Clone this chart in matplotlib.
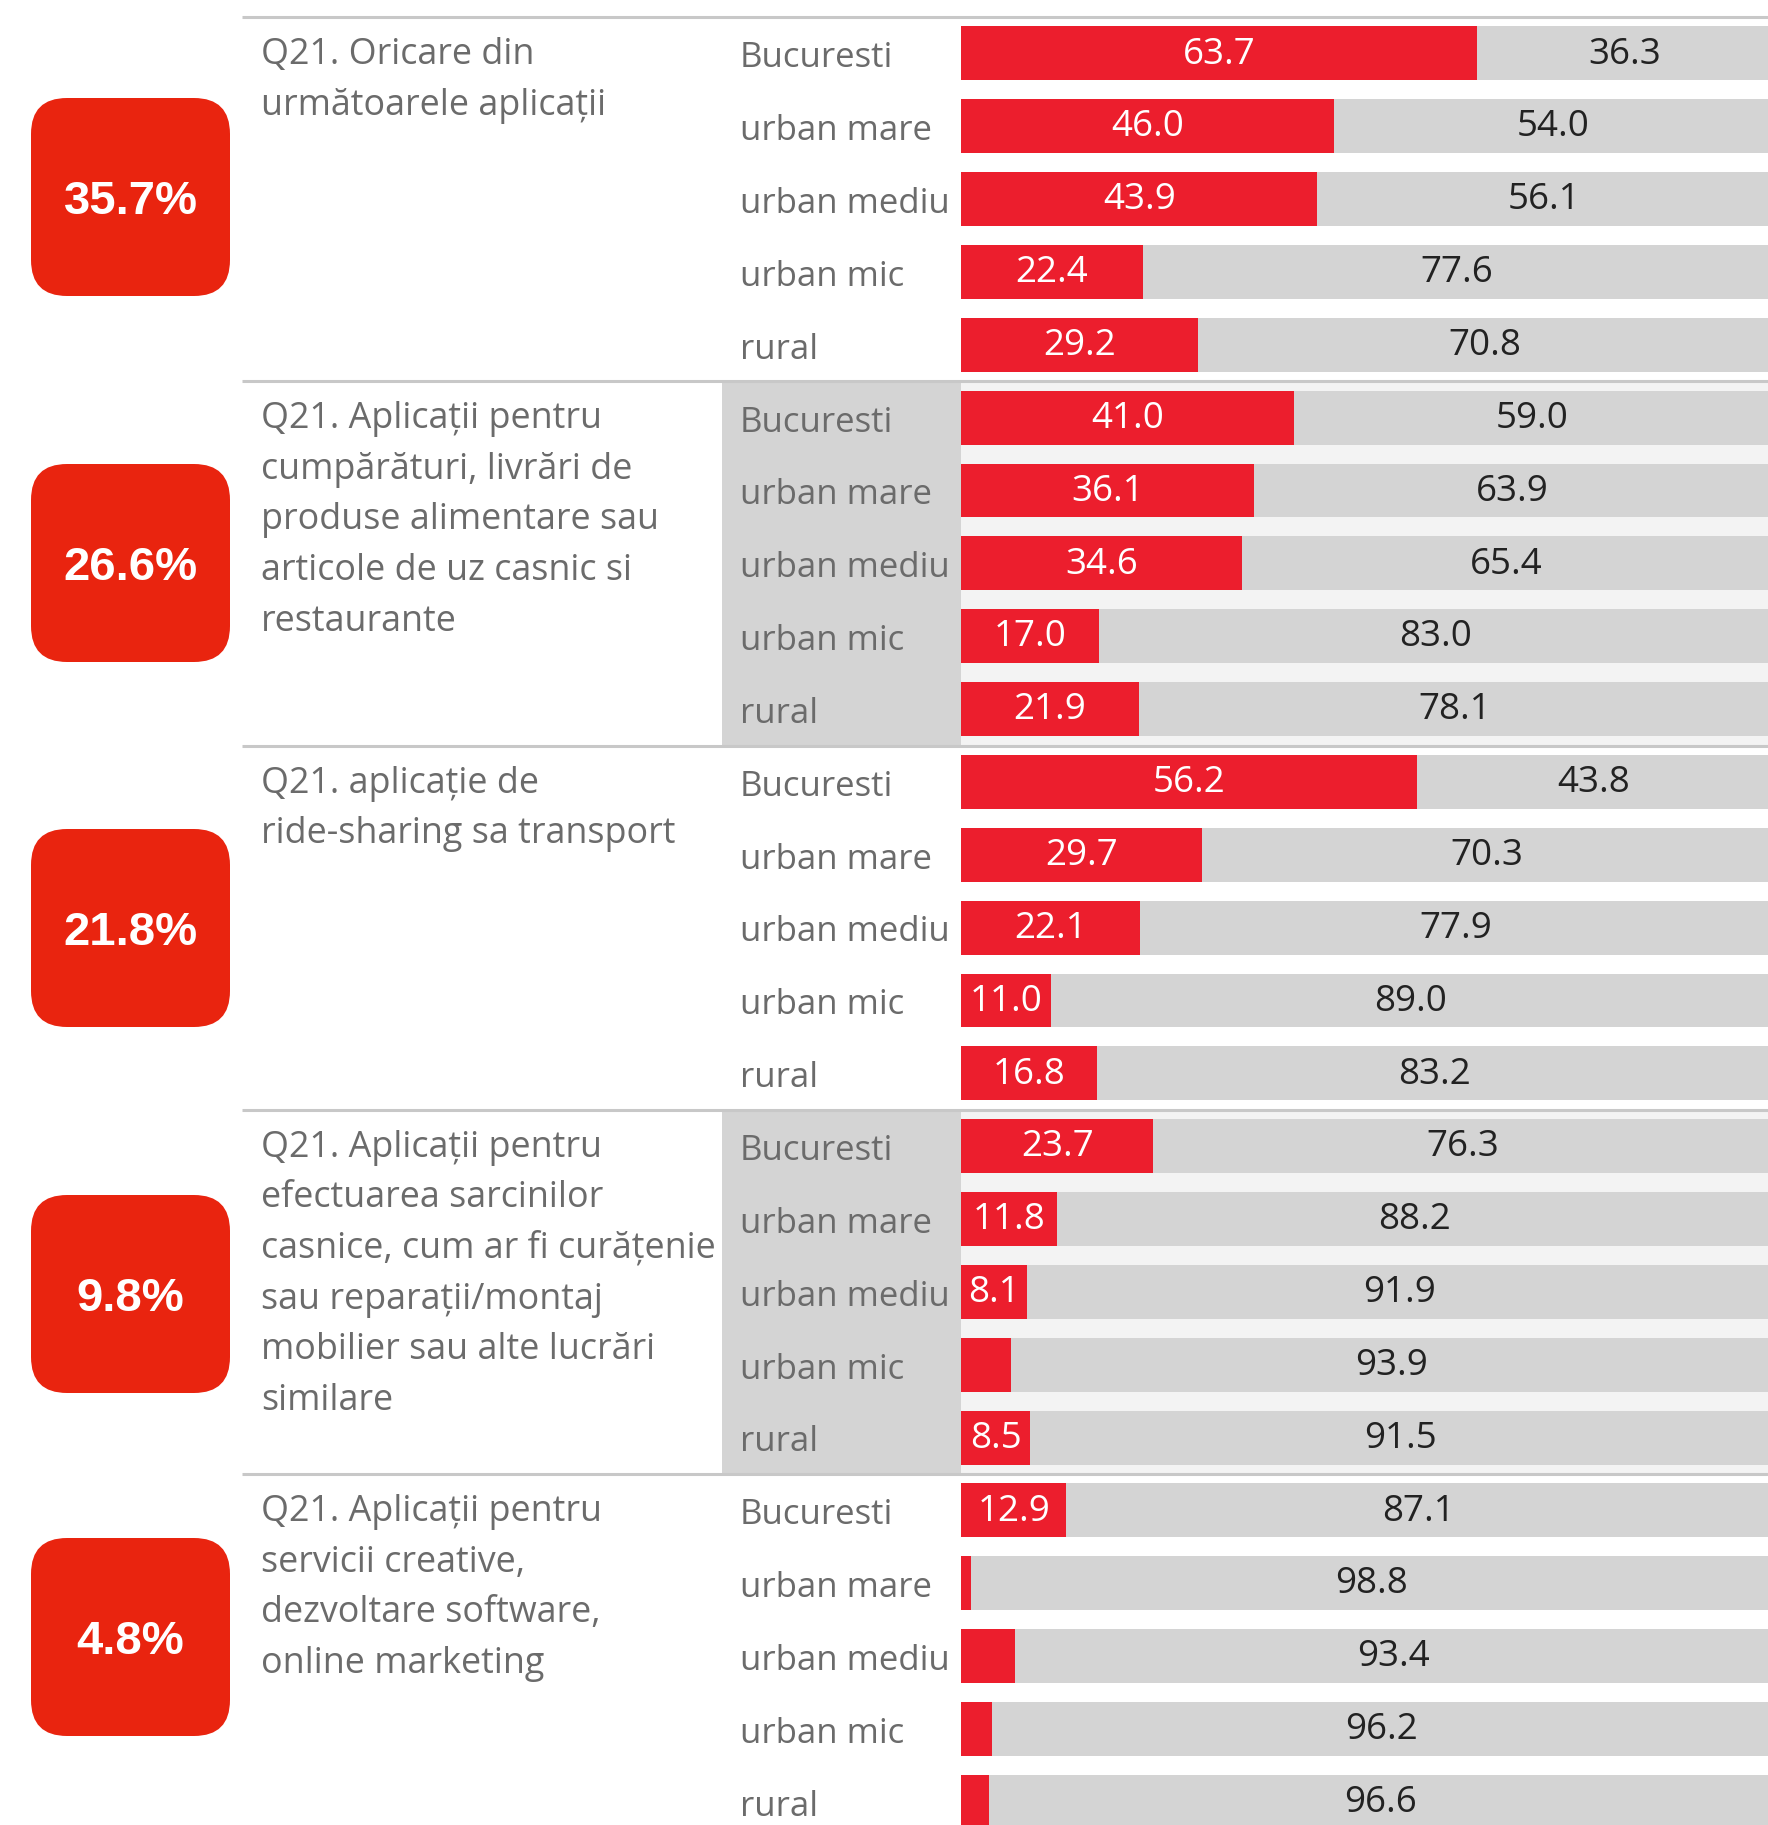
import matplotlib
matplotlib.use("Agg")
import matplotlib.pyplot as plt
import matplotlib.transforms as mtransforms
from matplotlib.patches import FancyBboxPatch, Rectangle

plt.rcParams['font.family'] = ['Open Sans', 'DejaVu Sans']

# --- data ---
regions = ["Bucuresti", "urban mare", "urban mediu", "urban mic", "rural"]

questions = [
    ["Q21. Oricare din", "următoarele aplicații"],
    ["Q21. Aplicații pentru", "cumpărături, livrări de", "produse alimentare sau",
     "articole de uz casnic si", "restaurante"],
    ["Q21. aplicație de", "ride-sharing sa transport"],
    ["Q21. Aplicații pentru", "efectuarea sarcinilor", "casnice, cum ar fi curățenie",
     "sau reparații/montaj", "mobilier sau alte lucrări", "similare"],
    ["Q21. Aplicații pentru", "servicii creative,", "dezvoltare software,",
     "online marketing"],
]
totals = ["35.7%", "26.6%", "21.8%", "9.8%", "4.8%"]

yes_any = [63.7, 46.0, 43.9, 22.4, 29.2]
no_any = [36.3, 54.0, 56.1, 77.6, 70.8]
yes_shopping = [41.0, 36.1, 34.6, 17.0, 21.9]
no_shopping = [59.0, 63.9, 65.4, 83.0, 78.1]
yes_ride = [56.2, 29.7, 22.1, 11.0, 16.8]
no_ride = [43.8, 70.3, 77.9, 89.0, 83.2]
yes_household = [23.7, 11.8, 8.1, 6.1, 8.5]
no_household = [76.3, 88.2, 91.9, 93.9, 91.5]
yes_creative = [12.9, 1.2, 6.6, 3.8, 3.4]
no_creative = [87.1, 98.8, 93.4, 96.2, 96.6]

yes_all = [yes_any, yes_shopping, yes_ride, yes_household, yes_creative]
no_all = [no_any, no_shopping, no_ride, no_household, no_creative]

# --- layout (pixels) ---
W, H = 1768, 1825
TOP = 17          # first separator line
ROW = 72.85       # row pitch
BAR_X0 = 961.4    # where 0% sits
PX_PCT = 8.1      # pixels per percentage point
RED = "#EC1E2D"
BADGE_RED = "#E9240F"
GREY = "#D4D4D4"
LIGHT = "#F3F3F3"
LINE = "#C8C8C8"
TXT = "#6B6B6B"
shaded = [1, 3]
badge_y = [197, 563, 928, 1294, 1637]

fig = plt.figure(figsize=(W / 100, H / 100), dpi=100)
bg = fig.add_axes([0, 0, 1, 1], zorder=0)
bg.set_xlim(0, W)
bg.set_ylim(H, 0)
bg.axis("off")

ax = fig.add_axes([BAR_X0 / W, 0, (W - BAR_X0) / W, 1], zorder=2)
ax.set_xlim(0, (W - BAR_X0) / PX_PCT)
ax.set_ylim((H - TOP) / ROW, -TOP / ROW)
ax.axis("off")
ax.patch.set_alpha(0)

blend = mtransforms.blended_transform_factory(bg.transData, ax.transData)

for g in range(5):
    top = 5 * g
    if g in shaded:
        ax.axhspan(top, top + 5, color=LIGHT, zorder=0, lw=0)
        bg.add_patch(Rectangle((722, top), BAR_X0 - 722, 5, transform=blend,
                               facecolor=GREY, edgecolor="none"))
    ax.plot([242, W], [top, top], transform=blend, color=LINE, lw=2.2,
            clip_on=False, zorder=3, solid_capstyle="butt")

    ys = [top + r + 0.5 for r in range(5)]
    ax.barh(ys, yes_all[g], height=0.74, color=RED, zorder=1)
    ax.barh(ys, no_all[g], left=yes_all[g], height=0.74, color=GREY, zorder=1)
    for y, v, n, name in zip(ys, yes_all[g], no_all[g], regions):
        if v >= 7:
            ax.text(v / 2, y + 0.14, f"{v:.1f}", ha="center", va="baseline",
                    color="white", fontsize=26.5, zorder=4)
        ax.text(v + (100 - v) / 2, y + 0.14, f"{n:.1f}", ha="center",
                va="baseline", color="#222222", fontsize=26.5, zorder=4)
        bg.text(740, y + 0.19, name, transform=blend, ha="left", va="baseline",
                color=TXT, fontsize=25)

    for k, line in enumerate(questions[g]):
        bg.text(261, top + (47 + k * 50.6) / ROW, line, transform=blend,
                ha="left", va="baseline", color=TXT, fontsize=25.8)

    cy = badge_y[g]
    bg.add_patch(FancyBboxPatch((31, cy - 99), 199, 198,
                                boxstyle="round,pad=0,rounding_size=36",
                                facecolor=BADGE_RED, edgecolor="none"))
    bg.text(130.5, cy + 17, totals[g], ha="center", va="baseline",
            color="white", fontsize=34, fontweight="bold",
            family=["Liberation Sans", "DejaVu Sans"])

fig.savefig("out.png", dpi=100)
